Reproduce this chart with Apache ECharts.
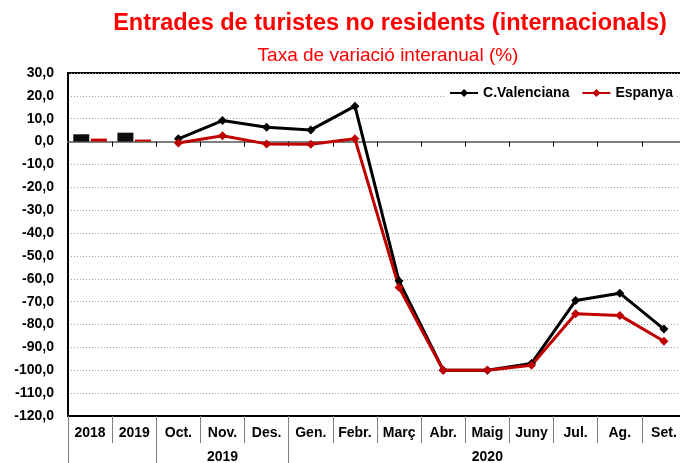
<!DOCTYPE html>
<html>
<head>
<meta charset="utf-8">
<script src="https://cdn.jsdelivr.net/npm/echarts@6/dist/echarts.min.js"></script>
<style>
  html, body { margin: 0; padding: 0; background: #fff; }
  #chart { width: 680px; height: 463px; }
</style>
</head>
<body>
<div id="chart"></div>
<script>
// categories (first row) and groups (second row)
var categories = ['2018', '2019', 'Oct.', 'Nov.', 'Des.', 'Gen.', 'Febr.', 'Març', 'Abr.', 'Maig', 'Juny', 'Jul.', 'Ag.', 'Set.']
var groupLabels = { 3: '2019', 9: '2020' }
var groupStarts = [0, 2, 5]

// annual bars (2018, 2019)
var barValenciana = [3.2, 3.9, '-', '-', '-', '-', '-', '-', '-', '-', '-', '-', '-', '-']
var barEspanya = [1.3, 0.9, '-', '-', '-', '-', '-', '-', '-', '-', '-', '-', '-', '-']

// monthly lines
var lineValenciana = ['-', '-', 1.2, 9.2, 6.3, 5.1, 15.5, -61.0, -100.0, -100.0, -97.0, -69.5, -66.3, -82.0]
var lineEspanya = ['-', '-', -0.6, 2.6, -1.0, -1.2, 1.2, -63.8, -100.0, -100.0, -97.8, -75.3, -76.0, -87.3]

var fontFam = 'Liberation Sans, Arial, sans-serif'
var sepColor = '#808080'

var myChart = echarts.init(document.getElementById('chart'))

var option = {
    animation: false,
    title: [
        {
            text: 'Entrades de turistes no residents (internacionals)',
            left: 385,
            top: 7,
            textAlign: 'center',
            textStyle: { color: '#FF0000', fontSize: 23.5, fontWeight: 'bold', fontFamily: fontFam }
        },
        {
            text: 'Taxa de variació interanual (%)',
            left: 383,
            top: 41,
            textAlign: 'center',
            textStyle: { color: '#FF0000', fontSize: 19, fontWeight: 'normal', fontFamily: fontFam }
        }
    ],
    legend: {
        data: ['C.Valenciana', 'Espanya'],
        right: 3,
        top: 85,
        itemWidth: 28,
        itemHeight: 10,
        itemGap: 12,
        backgroundColor: '#fff',
        padding: [1, 4],
        textStyle: { color: '#000', fontSize: 14, fontWeight: 'bold', fontFamily: fontFam }
    },
    grid: {
        left: 68,
        width: 618,
        top: 73,
        bottom: 47,
        outerBoundsMode: 'none',
        containLabel: false,
        show: true,
        borderColor: '#000',
        borderWidth: 2
    },
    xAxis: [
        {
            // zero line with small ticks
            type: 'category',
            data: categories,
            axisLine: { onZero: true, lineStyle: { color: '#808080', width: 2 } },
            axisTick: { show: true, length: 5, lineStyle: { color: '#000', width: 1 } },
            axisLabel: { show: false },
            splitLine: { show: false }
        },
        {
            // category labels row
            type: 'category',
            data: categories,
            position: 'bottom',
            axisLine: { onZero: false, lineStyle: { color: '#000', width: 2 } },
            axisTick: { show: true, interval: 0, length: 27, lineStyle: { color: sepColor, width: 1 } },
            axisLabel: {
                interval: 0,
                margin: 10,
                color: '#000',
                fontSize: 14,
                fontWeight: 'bold',
                fontFamily: fontFam
            },
            splitLine: { show: false }
        },
        {
            // group labels row
            type: 'category',
            data: categories,
            position: 'bottom',
            axisLine: { show: false, onZero: false },
            axisTick: {
                show: true,
                length: 50,
                interval: function (index) { return groupStarts.indexOf(index) >= 0 },
                lineStyle: { color: sepColor, width: 1 }
            },
            axisLabel: {
                interval: function (index) { return groupLabels[index] !== undefined },
                formatter: function (v, index) { return groupLabels[index] || '' },
                margin: 34,
                color: '#000',
                fontSize: 14,
                fontWeight: 'bold',
                fontFamily: fontFam
            },
            splitLine: { show: false }
        }
    ],
    yAxis: {
        type: 'value',
        min: -120,
        max: 30,
        interval: 10,
        axisLine: { show: true, lineStyle: { color: '#000', width: 2 } },
        axisTick: { show: false },
        axisLabel: {
            margin: 14,
            color: '#000',
            fontSize: 14,
            fontWeight: 'bold',
            fontFamily: fontFam,
            formatter: function (v) { return v.toFixed(1).replace('.', ',') }
        },
        splitLine: { show: true, lineStyle: { color: '#A0A0A0', type: [1, 2], width: 1 } }
    },
    series: [
        {
            name: 'C.Valenciana anual',
            type: 'bar',
            xAxisIndex: 0,
            barWidth: 16,
            barGap: '10%',
            itemStyle: { color: '#0D0D0D' },
            data: barValenciana
        },
        {
            name: 'Espanya anual',
            type: 'bar',
            xAxisIndex: 0,
            barWidth: 16,
            itemStyle: { color: '#C00000' },
            data: barEspanya
        },
        {
            name: 'C.Valenciana',
            type: 'line',
            xAxisIndex: 0,
            symbol: 'diamond',
            symbolSize: 9,
            color: '#000',
            lineStyle: { color: '#000', width: 3 },
            data: lineValenciana
        },
        {
            name: 'Espanya',
            type: 'line',
            xAxisIndex: 0,
            symbol: 'diamond',
            symbolSize: 9,
            color: '#C00000',
            lineStyle: { color: '#C00000', width: 3 },
            data: lineEspanya
        }
    ]
}

myChart.setOption(option)
</script>
</body>
</html>
